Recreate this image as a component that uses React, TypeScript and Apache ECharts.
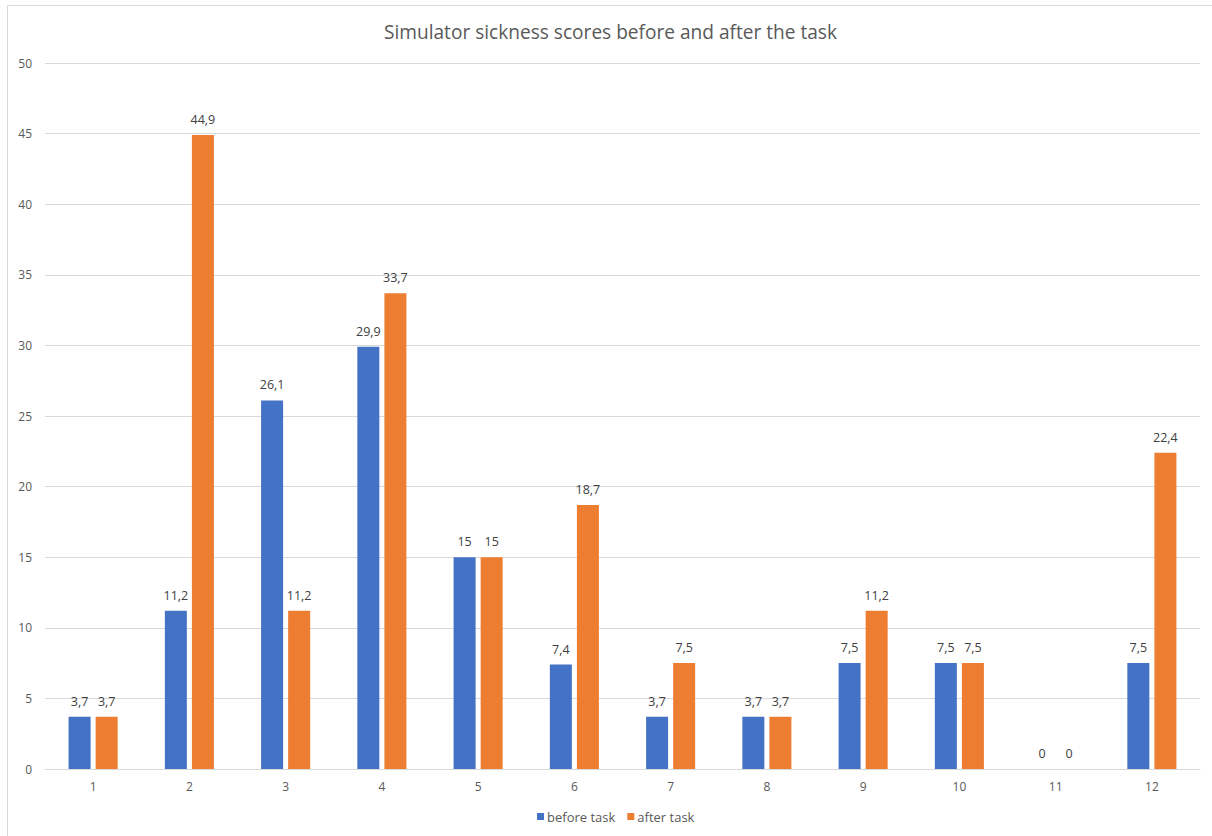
import React, { useEffect, useRef } from "react";
import * as echarts from "echarts";

const categories = ["1", "2", "3", "4", "5", "6", "7", "8", "9", "10", "11", "12"];
const beforeTask = [3.7, 11.2, 26.1, 29.9, 15, 7.4, 3.7, 3.7, 7.5, 7.5, 0, 7.5];
const afterTask = [3.7, 44.9, 11.2, 33.7, 15, 18.7, 7.5, 3.7, 11.2, 7.5, 0, 22.4];
const titleText = "Simulator sickness scores before and after the task";

const FONT = "'Open Sans', 'Noto Sans', sans-serif";

export default function App() {
  const ref = useRef<HTMLDivElement>(null);
  useEffect(() => {
    if (!ref.current) return;
    const chart = echarts.init(ref.current, undefined, { renderer: "svg" });
    const labelFmt = (p: any) => String(p.value).replace(".", ",");
    const barLabel = {
      show: true,
      position: "top",
      distance: 9,
      color: "#404040",
      fontSize: 12.5,
      fontFamily: FONT,
      formatter: labelFmt,
    };
    chart.setOption({
      animation: false,
      backgroundColor: "#ffffff",
      textStyle: { fontFamily: FONT },
      title: {
        text: titleText,
        left: 379,
        top: 17,
        textStyle: { fontSize: 19.1, fontWeight: "normal", color: "#595959", fontFamily: FONT },
      },
      legend: {
        bottom: 8,
        left: 532,
        itemWidth: 7,
        itemHeight: 7,
        itemGap: 12,
        icon: "rect",
        textStyle: { fontSize: 13, color: "#595959", fontFamily: FONT, padding: [0, 0, 0, -2] },
        data: ["before task", "after task"],
      },
      grid: { left: 45, right: 12, top: 63, bottom: 67, containLabel: false },
      xAxis: {
        type: "category",
        data: categories,
        axisLine: { lineStyle: { color: "#d9d9d9" } },
        axisTick: { show: false },
        axisLabel: { color: "#595959", fontSize: 12, margin: 11, fontFamily: FONT },
      },
      yAxis: {
        type: "value",
        min: 0,
        max: 50,
        interval: 5,
        axisLine: { show: false },
        axisTick: { show: false },
        axisLabel: { color: "#595959", fontSize: 12, margin: 13, fontFamily: FONT },
        splitLine: { lineStyle: { color: "#d9d9d9" } },
      },
      series: [
        {
          name: "before task",
          type: "bar",
          data: beforeTask,
          barWidth: 22,
          barGap: "23%",
          itemStyle: { color: "#4472c4" },
          label: barLabel,
        },
        {
          name: "after task",
          type: "bar",
          data: afterTask,
          barWidth: 22,
          itemStyle: { color: "#ed7d31" },
          label: barLabel,
        },
      ],
      graphic: [
        { type: "line", shape: { x1: 7, y1: 5.5, x2: 1212, y2: 5.5 }, style: { stroke: "#d9d9d9", lineWidth: 1 } },
        { type: "line", shape: { x1: 7.5, y1: 5, x2: 7.5, y2: 836 }, style: { stroke: "#d9d9d9", lineWidth: 1 } },
      ],
    });
    return () => chart.dispose();
  }, []);
  return (
    <div
      ref={ref}
      style={{ position: "fixed", left: 0, top: 0, width: 1212, height: 836 }}
    />
  );
}
